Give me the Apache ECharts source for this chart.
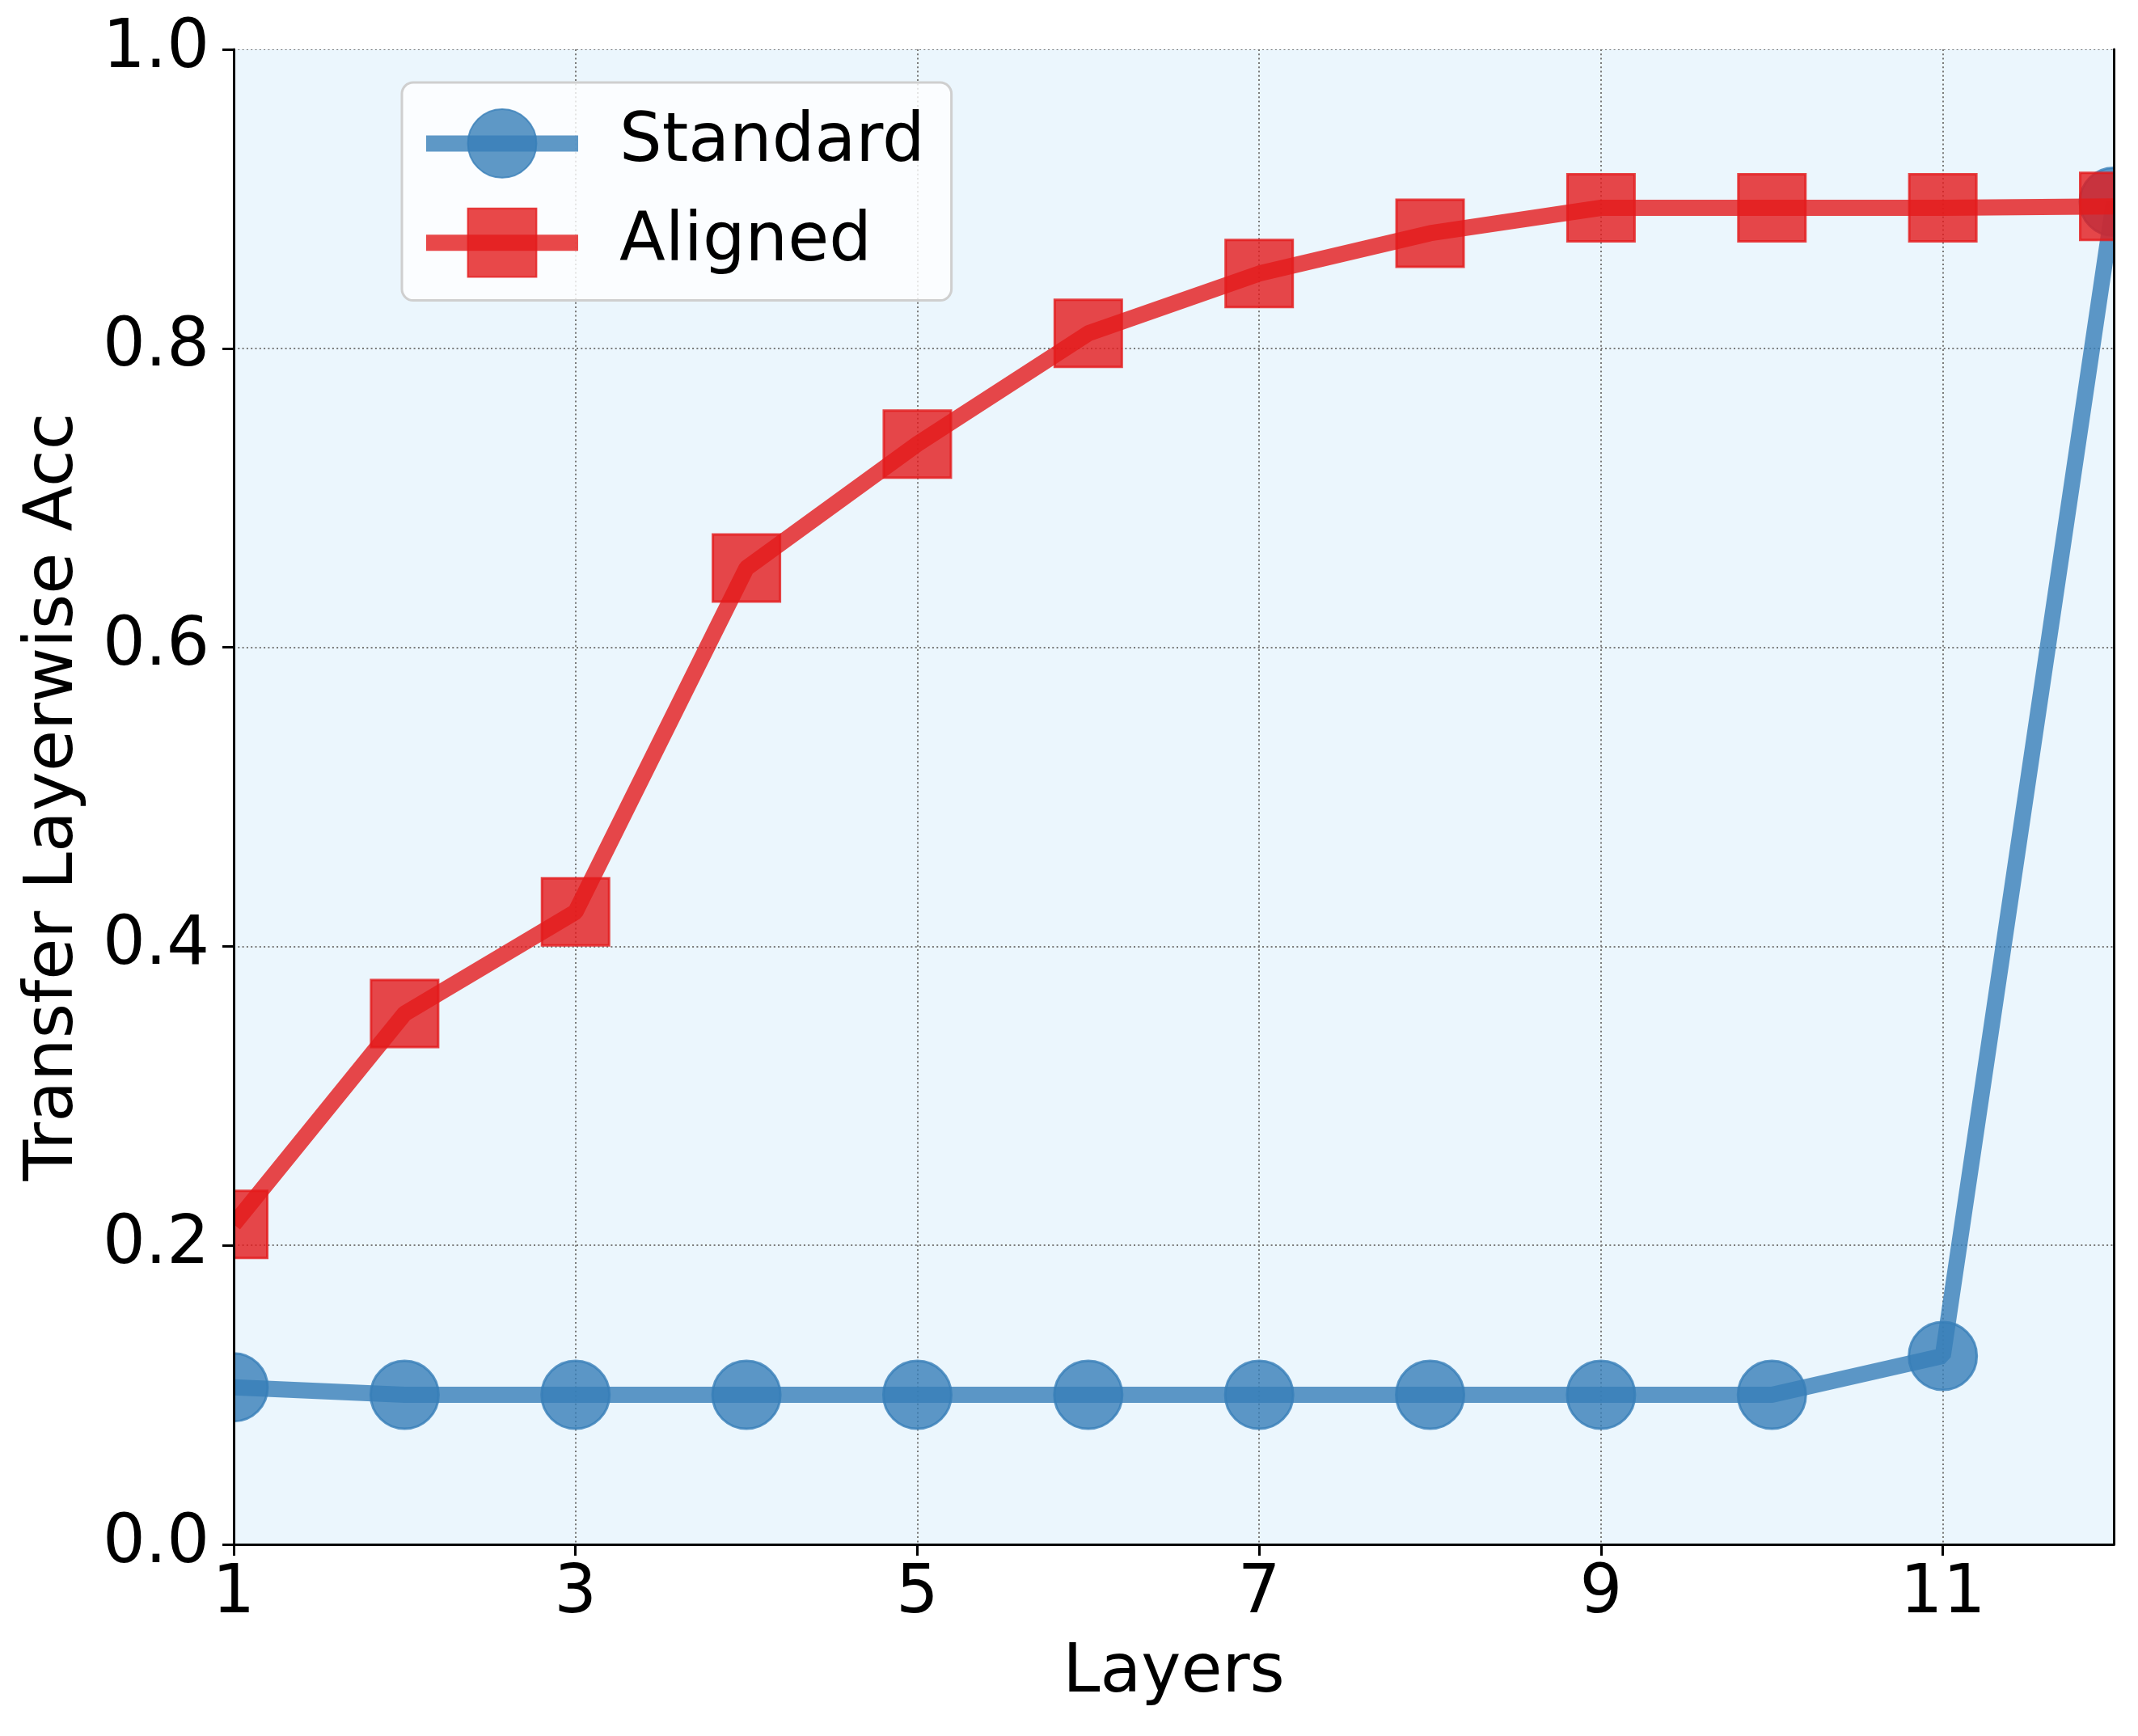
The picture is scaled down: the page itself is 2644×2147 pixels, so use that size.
<!DOCTYPE html>
<html>
<head>
<meta charset="utf-8">
<script src="https://cdn.jsdelivr.net/npm/echarts@6/dist/echarts.min.js"></script>
<style>
html,body{margin:0;padding:0;background:#fff;}
#c{width:2644px;height:2147px;}
</style>
</head>
<body>
<div id="c"></div>
<script>
// ---- data ----
const layers = [1, 2, 3, 4, 5, 6, 7, 8, 9, 10, 11, 12];
const standard = [0.105, 0.100, 0.100, 0.100, 0.100, 0.100, 0.100, 0.100, 0.100, 0.100, 0.126, 0.898];
const aligned = [0.214, 0.355, 0.423, 0.653, 0.736, 0.810, 0.850, 0.877, 0.894, 0.894, 0.894, 0.895];
const xTicks = [1, 3, 5, 7, 9, 11];
const yTicks = [0, 0.2, 0.4, 0.6, 0.8, 1.0];
const seriesNames = ['Standard', 'Aligned'];
const xLabel = 'Layers';
const yLabel = 'Transfer Layerwise Acc';

// ---- layout / style ----
const W = 2644, H = 2147;
const G = {left: 289, right: 30, top: 61, bottom: 237};
const FONT = 'DejaVu Sans';
const FS = 83;
const blue = 'rgba(55,126,184,0.8)';
const red = 'rgba(228,26,28,0.8)';

const chart = echarts.init(document.getElementById('c'), null, {renderer: 'canvas', width: W, height: H});

const frameLine = {show: true, lineStyle: {color: '#000', width: 3}};
const hidden = {show: false};

const option = {
  animation: false,
  backgroundColor: '#ffffff',
  grid: {left: G.left, right: G.right, top: G.top, bottom: G.bottom, show: true,
         backgroundColor: '#ebf6fd', borderWidth: 0},
  graphic: {elements: [
    {type: 'rect', z: 50, silent: true, shape: {x: 0, y: 0, width: G.left, height: H}, style: {fill: '#fff'}},
    {type: 'rect', z: 50, silent: true, shape: {x: W - G.right, y: 0, width: G.right, height: H}, style: {fill: '#fff'}},
    {type: 'rect', z: 50, silent: true, shape: {x: 0, y: 0, width: W, height: G.top}, style: {fill: '#fff'}},
    {type: 'rect', z: 50, silent: true, shape: {x: 0, y: H - G.bottom, width: W, height: G.bottom}, style: {fill: '#fff'}}
  ]},
  legend: {
    show: true,
    orient: 'vertical',
    left: 497, top: 102,
    z: 70,
    data: seriesNames,
    itemWidth: 188,
    itemHeight: 106,
    itemGap: 36,
    padding: [32, 33, 28, 20],
    backgroundColor: 'rgba(255,255,255,0.8)',
    borderColor: '#cfcfcf',
    borderWidth: 3,
    borderRadius: 14,
    lineStyle: {width: 20},
    textStyle: {fontFamily: FONT, fontSize: FS, color: '#000', padding: [0, 0, 0, 46]}
  },
  xAxis: [
    { // grid lines only
      type: 'value', min: 1, max: 12, interval: 2, z: 0,
      axisLine: hidden, axisTick: hidden, axisLabel: hidden,
      splitLine: {show: true, lineStyle: {color: '#7a7a7a', width: 2, type: [2, 3.3]}}
    },
    { // bottom axis with labels
      type: 'value', min: 1, max: 12, position: 'bottom', z: 60,
      name: xLabel, nameLocation: 'middle', nameGap: 119,
      nameTextStyle: {fontFamily: FONT, fontSize: FS, color: '#000'},
      axisLine: frameLine,
      axisTick: {show: true, length: 14, lineStyle: {color: '#000', width: 3}, customValues: xTicks},
      axisLabel: {show: true, margin: 21, fontFamily: FONT, fontSize: FS, color: '#000', customValues: xTicks},
      splitLine: hidden
    },
    { // top frame
      type: 'value', min: 1, max: 12, position: 'top', z: 60,
      axisLine: frameLine, axisTick: hidden, axisLabel: hidden, splitLine: hidden
    }
  ],
  yAxis: [
    {
      type: 'value', min: 0, max: 1, interval: 0.2, z: 0,
      axisLine: hidden, axisTick: hidden, axisLabel: hidden,
      splitLine: {show: true, lineStyle: {color: '#7a7a7a', width: 2, type: [2, 3.3]}}
    },
    {
      type: 'value', min: 0, max: 1, interval: 0.2, position: 'left', z: 60,
      name: yLabel, nameLocation: 'middle', nameGap: 180,
      nameTextStyle: {fontFamily: FONT, fontSize: FS, color: '#000'},
      axisLine: frameLine,
      axisTick: {show: true, length: 14, lineStyle: {color: '#000', width: 3}, customValues: yTicks},
      axisLabel: {show: true, margin: 30, fontFamily: FONT, fontSize: FS, color: '#000',
                  customValues: yTicks, formatter: v => v.toFixed(1)},
      splitLine: hidden
    },
    {
      type: 'value', min: 0, max: 1, position: 'right', z: 60,
      axisLine: frameLine, axisTick: hidden, axisLabel: hidden, splitLine: hidden
    }
  ],
  series: [
    {
      name: seriesNames[0], type: 'line', xAxisIndex: 0, yAxisIndex: 0,
      data: layers.map((l, i) => [l, standard[i]]),
      symbol: 'circle', symbolSize: 84, clip: false,
      lineStyle: {color: blue, width: 20},
      itemStyle: {color: blue, borderColor: blue, borderWidth: 3},
      emphasis: {disabled: true}, z: 2
    },
    {
      name: seriesNames[1], type: 'line', xAxisIndex: 0, yAxisIndex: 0,
      data: layers.map((l, i) => [l, aligned[i]]),
      symbol: 'rect', symbolSize: 83, clip: false,
      lineStyle: {color: red, width: 20},
      itemStyle: {color: red, borderColor: red, borderWidth: 3},
      emphasis: {disabled: true}, z: 3
    }
  ]
};
chart.setOption(option);
</script>
</body>
</html>
